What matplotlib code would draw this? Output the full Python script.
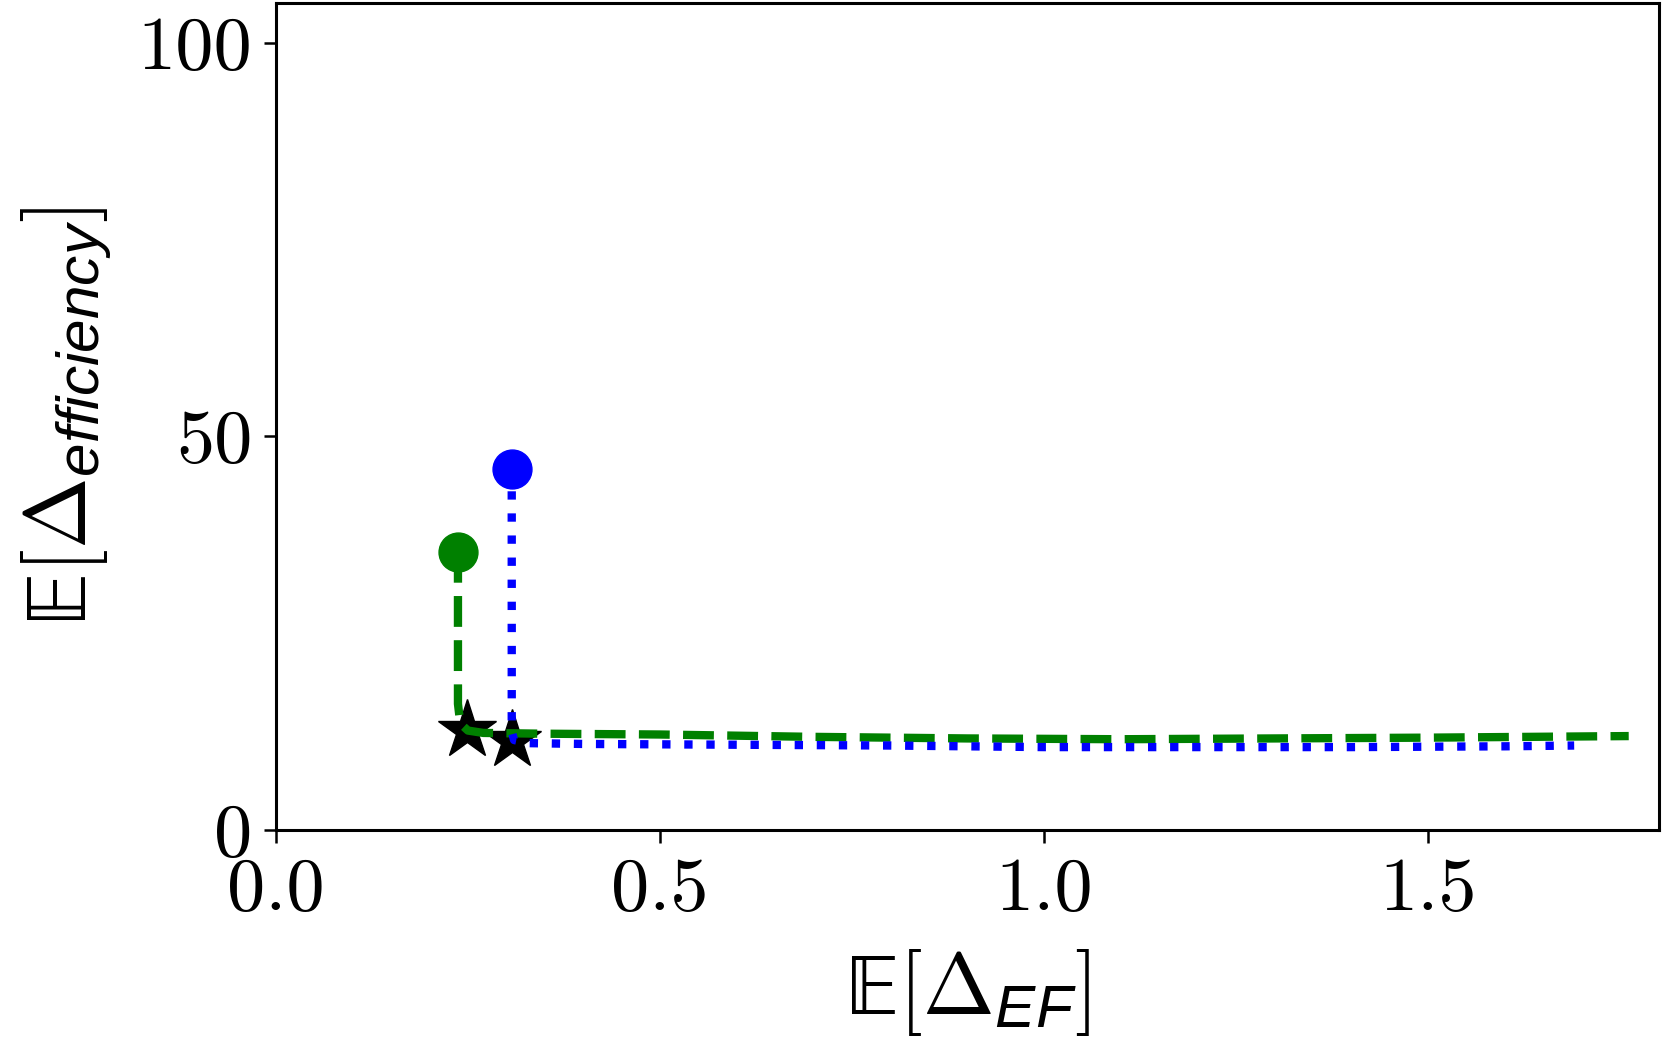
import matplotlib
matplotlib.use("Agg")
import matplotlib.pyplot as plt

plt.rcParams['font.family'] = 'cmr10'
plt.rcParams['axes.unicode_minus'] = False
# 数学字体: 正文用CM, 下标用无衬线斜体
plt.rcParams['mathtext.fontset'] = 'custom'
plt.rcParams['mathtext.rm'] = 'cmr10'
plt.rcParams['mathtext.it'] = 'Liberation Sans:italic'
plt.rcParams['mathtext.fallback'] = 'cm'

# 曲线数据
green_x = [0.237, 0.237, 0.240, 0.250, 0.270, 0.350, 0.500, 0.700, 0.900, 1.100, 1.300, 1.500, 1.761]
green_y = [35.3, 16.0, 13.5, 12.6, 12.3, 12.2, 12.1, 11.8, 11.6, 11.5, 11.6, 11.7, 11.9]
blue_x = [0.307, 0.307, 0.310, 0.330, 0.400, 0.600, 0.800, 1.000, 1.200, 1.400, 1.600, 1.690]
blue_y = [45.8, 12.5, 11.4, 11.0, 10.9, 10.8, 10.7, 10.5, 10.5, 10.5, 10.6, 10.7]
star_x = [0.249, 0.307]
star_y = [12.7, 11.4]

fig = plt.figure(figsize=(16.62, 10.49), dpi=100)
ax = fig.add_axes([0.166, 0.209, 0.832, 0.788])

# 星号先画, 线在上面
ax.plot(star_x, star_y, linestyle='none', marker='*', color='black', markersize=44, zorder=2)
ax.plot(green_x, green_y, '--', color='green', linewidth=6, marker='o', markevery=[0],
        markersize=28, zorder=3)
ax.plot(blue_x, blue_y, ':', color='blue', linewidth=6, marker='o', markevery=[0],
        markersize=28, zorder=3)

ax.set_xlim(0, 1.8)
ax.set_ylim(0, 105)
ax.set_xticks([0.0, 0.5, 1.0, 1.5])
ax.set_xticklabels(['0.0', '0.5', '1.0', '1.5'])
ax.set_yticks([0, 50, 100])
ax.tick_params(labelsize=55, length=9, width=1.8)
ax.tick_params(axis='x', pad=11)
ax.tick_params(axis='y', pad=8)
for s in ax.spines.values():
    s.set_linewidth(2.2)

ax.set_xlabel(r'$\mathrm{\mathbb{E}}[\Delta_{EF}]$', fontsize=62, labelpad=16)
ax.set_ylabel(r'$\mathrm{\mathbb{E}}[\Delta_{efficiency}]$', fontsize=62, labelpad=18)

fig.savefig('out.png', dpi=100)
